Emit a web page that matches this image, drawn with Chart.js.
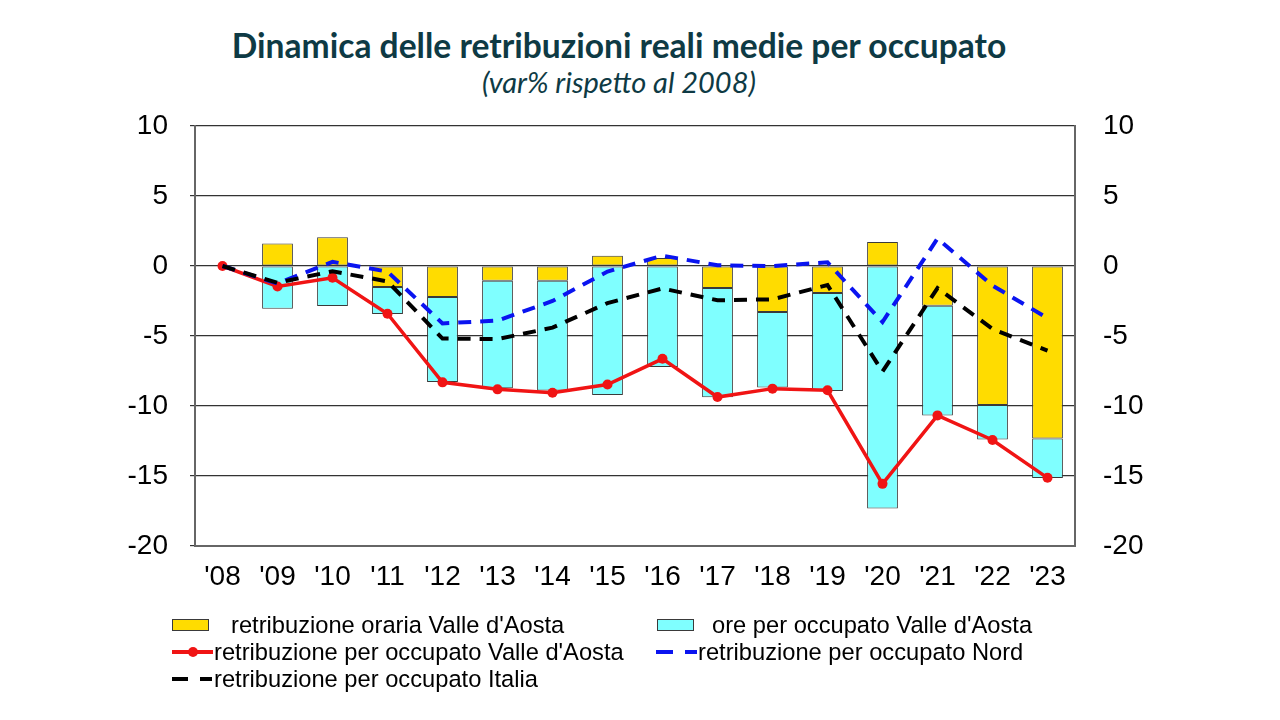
<!DOCTYPE html>
<html lang="it">
<head>
  <meta charset="UTF-8" />
  <title>Dinamica delle retribuzioni reali medie per occupato</title>
  <script src="https://cdn.jsdelivr.net/npm/chart.js"></script>
  <style>
    body {
      margin: 0;
      background: #ffffff;
    }
    #wrap {
      position: relative;
      width: 1280px;
      height: 720px;
      overflow: hidden;
    }
    #grafico {
      position: absolute;
      left: 0;
      top: 0;
    }
    #titolo, #sottotitolo {
      position: absolute;
      left: -21px;
      width: 1280px;
      text-align: center;
      color: #0e3a44;
      font-family: 'Lato', sans-serif;
    }
    #titolo {
      top: 25px;
      font-size: 33.6px;
      font-weight: bold;
      line-height: 40px;
    }
    #sottotitolo {
      top: 63px;
      font-size: 29px;
      font-style: italic;
      line-height: 38px;
    }
    .voce {
      position: absolute;
      font-family: 'Liberation Sans', Arial, sans-serif;
      font-size: 23.7px;
      line-height: 26px;
      color: #000;
      white-space: nowrap;
    }
    .simbolo {
      position: absolute;
    }
  </style>
</head>
<body>
  <div id="wrap">
    <div id="titolo">Dinamica delle retribuzioni reali medie per occupato</div>
    <div id="sottotitolo">(var% rispetto al 2008)</div>
    <canvas id="grafico" width="1280" height="720"></canvas>
    <div id="legenda"></div>
  </div>

  <script>
    // dati (var% rispetto al 2008)
    const anni = ["'08", "'09", "'10", "'11", "'12", "'13", "'14", "'15",
                  "'16", "'17", "'18", "'19", "'20", "'21", "'22", "'23"];

    const retribuzioneOraria = [null, 1.6, 2.05, -1.5, -2.22, -1.05, -1.05, 0.74,
                                0.57, -1.58, -3.29, -1.93, 1.72, -2.84, -9.93, -12.32];
    const orePerOccupato = [null, -3.05, -2.86, -1.93, -6.06, -7.68, -7.85, -9.21,
                            -7.21, -7.8, -5.39, -6.99, -17.33, -7.83, -2.46, -2.82];

    const retribVdA = [0, -1.46, -0.84, -3.41, -8.31, -8.81, -9.05, -8.47,
                       -6.63, -9.36, -8.76, -8.88, -15.56, -10.67, -12.43, -15.13];
    const retribNord = [0, -1.25, 0.3, -0.4, -4.1, -3.9, -2.5, -0.4,
                        0.74, 0.05, 0, 0.26, -4.0, 1.96, -1.4, -3.72];
    const retribItalia = [0, -1.2, -0.38, -1.1, -5.18, -5.22, -4.4, -2.65,
                          -1.6, -2.45, -2.38, -1.36, -7.54, -1.58, -4.5, -6.05];

    const nomiSerie = [
      "retribuzione oraria Valle d'Aosta",
      "ore per occupato Valle d'Aosta",
      "retribuzione per occupato Valle d'Aosta",
      "retribuzione per occupato Nord",
      "retribuzione per occupato Italia"
    ];

    const asseMin = -20, asseMax = 10, assePasso = 5;

    const fontAssi = { family: 'Liberation Sans', size: 28 };

    const ctx = document.getElementById('grafico').getContext('2d');

    new Chart(ctx, {
      data: {
        labels: anni,
        datasets: [
          {
            type: 'bar',
            label: nomiSerie[0],
            data: retribuzioneOraria,
            backgroundColor: '#FFDC00',
            borderColor: '#3a3a3a',
            borderWidth: 1,
            borderSkipped: false,
            barPercentage: 0.56,
            categoryPercentage: 1,
            stack: 'vda',
            yAxisID: 'y',
            order: 4
          },
          {
            type: 'bar',
            label: nomiSerie[1],
            data: orePerOccupato,
            backgroundColor: '#7FFFFF',
            borderColor: '#3a3a3a',
            borderWidth: 1,
            borderSkipped: false,
            barPercentage: 0.56,
            categoryPercentage: 1,
            stack: 'vda',
            yAxisID: 'y',
            order: 4
          },
          {
            type: 'line',
            label: nomiSerie[2],
            data: retribVdA,
            borderColor: '#F01414',
            backgroundColor: '#F01414',
            borderWidth: 3.5,
            pointRadius: 5,
            pointBorderWidth: 0,
            pointBackgroundColor: '#F01414',
            tension: 0,
            yAxisID: 'y1',
            order: 3
          },
          {
            type: 'line',
            label: nomiSerie[3],
            data: retribNord,
            borderColor: '#0A14F0',
            borderWidth: 4,
            borderDash: [13, 9],
            pointRadius: 0,
            tension: 0,
            yAxisID: 'y1',
            order: 2
          },
          {
            type: 'line',
            label: nomiSerie[4],
            data: retribItalia,
            borderColor: '#000000',
            borderWidth: 4,
            borderDash: [13, 9],
            pointRadius: 0,
            tension: 0,
            yAxisID: 'y1',
            order: 1
          }
        ]
      },
      options: {
        responsive: false,
        animation: false,
        layout: { padding: { top: 126, left: 0, right: 0, bottom: 0 } },
        plugins: {
          legend: { display: false },
          tooltip: { enabled: false }
        },
        scales: {
          x: {
            stacked: true,
            grid: { display: false, drawTicks: false },
            border: { display: true, color: '#666', width: 2 },
            ticks: { font: fontAssi, color: '#000', padding: 14, maxRotation: 0, autoSkip: false },
            afterFit: (s) => { s.height = 174; }
          },
          y: {
            position: 'left',
            stacked: true,
            min: asseMin,
            max: asseMax,
            ticks: { stepSize: assePasso, font: fontAssi, color: '#000', padding: 22 },
            grid: { color: '#333', lineWidth: 1.2, tickLength: 5, drawTicks: true },
            border: { display: true, color: '#666', width: 2 },
            afterFit: (s) => { s.width = 195; }
          },
          y1: {
            position: 'right',
            min: asseMin,
            max: asseMax,
            ticks: { stepSize: assePasso, font: fontAssi, color: '#000', padding: 28 },
            grid: { display: false, drawTicks: false, tickLength: 0 },
            border: { display: true, color: '#666', width: 2 },
            afterFit: (s) => { s.width = 205; }
          }
        }
      }
    });

    // legenda su due colonne, come nell'originale
    const legenda = document.getElementById('legenda');

    function aggiungiTesto(testo, x, yCentro) {
      const d = document.createElement('div');
      d.className = 'voce';
      d.textContent = testo;
      d.style.left = x + 'px';
      d.style.top = (yCentro - 13) + 'px';
      legenda.appendChild(d);
    }

    function rettangolo(x, y, w, h, stile) {
      const d = document.createElement('div');
      d.className = 'simbolo';
      d.style.left = x + 'px';
      d.style.top = y + 'px';
      d.style.width = w + 'px';
      d.style.height = h + 'px';
      Object.assign(d.style, stile);
      legenda.appendChild(d);
    }

    // riga 1: barre
    rettangolo(172, 619, 37, 12, { background: '#FFDC00', border: '1px solid #3a3a3a', boxSizing: 'border-box' });
    aggiungiTesto(nomiSerie[0], 231, 625);
    rettangolo(657, 619, 37, 12, { background: '#7FFFFF', border: '1px solid #3a3a3a', boxSizing: 'border-box' });
    aggiungiTesto(nomiSerie[1], 712, 625);

    // riga 2: linee
    rettangolo(172, 650, 41, 4, { background: '#F01414' });
    rettangolo(188, 647, 10, 10, { background: '#F01414', borderRadius: '50%' });
    aggiungiTesto(nomiSerie[2], 214, 652);
    rettangolo(656, 650, 17, 4, { background: '#0A14F0' });
    rettangolo(685, 650, 12, 4, { background: '#0A14F0' });
    aggiungiTesto(nomiSerie[3], 698, 652);

    // riga 3
    rettangolo(172, 677, 16, 4, { background: '#000' });
    rettangolo(200, 677, 12, 4, { background: '#000' });
    aggiungiTesto(nomiSerie[4], 214, 679);
  </script>
</body>
</html>
